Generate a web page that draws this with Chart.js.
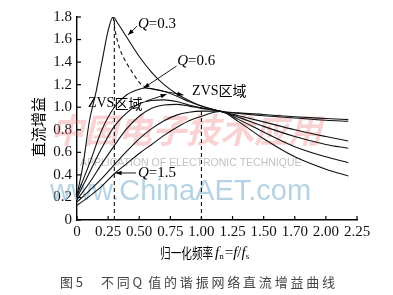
<!DOCTYPE html>
<html><head><meta charset="utf-8">
<script src="https://cdn.jsdelivr.net/npm/chart.js@4/dist/chart.umd.min.js"></script>
<style>html,body{margin:0;padding:0;background:#fff;}#wrap{width:393px;height:295px;}</style>
</head><body><div id="wrap"><canvas id="c" width="393" height="295"></canvas></div>
<script>
const xTickValues = [0,0.25,0.5,0.75,1,1.25,1.5,1.75,2,2.25];
const xTickLabels = ["0","0.25","0.50","0.75","1.00","1.25","1.50","1.70","2.00","2.25"];
const yTickValues = [0,0.2,0.4,0.6,0.8,1.0,1.2,1.4,1.6,1.8];
const yTickLabels = ["0","0.2","0.4","0.6","0.8","1.0","1.2","1.4","1.6","1.8"];

const q03X = [0,0.05,0.1,0.15,0.2,0.25,0.29,0.33,0.4,0.5,0.6,0.7,0.8,0.9,1.0,1.15,1.3,1.5,1.75,2.0,2.18];
const q03Y = [0.22,0.5,0.88,1.12,1.4,1.68,1.8,1.74,1.62,1.45,1.31,1.2,1.12,1.06,1.01,0.965,0.95,0.935,0.915,0.9,0.89];
const q06X = [0,0.1,0.2,0.3,0.4,0.5,0.55,0.65,0.8,0.9,1.0,1.15,1.3,1.5,1.75,2.0,2.18];
const q06Y = [0.22,0.5,0.8,1.0,1.11,1.16,1.17,1.155,1.1,1.05,1.01,0.965,0.945,0.925,0.905,0.885,0.875];
const commonX = [0,0.1,0.2,0.3,0.4,0.5,0.6,0.7,0.8,0.9,1.0,1.15,1.3,1.5,1.75,2.0,2.18];
const qCY = [0.2,0.42,0.64,0.83,0.95,1.03,1.06,1.065,1.05,1.02,0.995,0.965,0.925,0.87,0.8,0.74,0.70];
const qDY = [0.18,0.33,0.5,0.66,0.81,0.92,0.99,1.02,1.025,1.01,0.99,0.965,0.91,0.83,0.74,0.67,0.636];
const qEY = [0.16,0.26,0.37,0.49,0.61,0.72,0.81,0.88,0.93,0.955,0.965,0.965,0.89,0.78,0.65,0.56,0.508];
const q15Y = [0.13,0.21,0.3,0.41,0.5,0.59,0.67,0.75,0.82,0.88,0.92,0.962,0.87,0.72,0.56,0.45,0.39];
const locusX = [0.29,0.31,0.34,0.37,0.41,0.45,0.5,0.56];
const locusY = [1.8,1.66,1.53,1.45,1.37,1.3,1.22,1.17];
const vline1X = [0.3,0.3], vline1Y = [0,1.8];
const vline2X = [1.0,1.0], vline2Y = [0,1.0];

const pts = (xs, ys) => xs.map((x, i) => ({x, y: ys[i]}));
const curve = (xs, ys) => ({data: pts(xs, ys), borderColor:'#111', borderWidth:1.1, pointRadius:0, showLine:true, cubicInterpolationMode:'monotone', fill:false});
const dashed = (xs, ys) => ({data: pts(xs, ys), borderColor:'#111', borderWidth:1.1, borderDash:[4,3], pointRadius:0, showLine:true, cubicInterpolationMode:'monotone', fill:false});

function arrow(ctx, x1, y1, x2, y2) {
  ctx.beginPath(); ctx.moveTo(x1, y1); ctx.lineTo(x2, y2); ctx.stroke();
  const a = Math.atan2(y2 - y1, x2 - x1), L = 6, W = 2.2;
  ctx.beginPath();
  ctx.moveTo(x2, y2);
  ctx.lineTo(x2 - L*Math.cos(a) + W*Math.sin(a), y2 - L*Math.sin(a) - W*Math.cos(a));
  ctx.lineTo(x2 - L*Math.cos(a) - W*Math.sin(a), y2 - L*Math.sin(a) + W*Math.cos(a));
  ctx.closePath(); ctx.fill();
}
const SERIF = '"Liberation Serif", "Times New Roman", serif';
const CJK = '"Noto Sans CJK SC", sans-serif';

function qLabel(ctx, x, y, rest) {
  ctx.textBaseline = 'middle'; ctx.textAlign = 'left';
  ctx.font = 'italic 15px ' + SERIF; ctx.fillText('Q', x, y);
  const w = ctx.measureText('Q').width;
  ctx.font = '15px ' + SERIF; ctx.fillText(rest, x + w, y);
}
function zvs(ctx, x, y) {
  ctx.textBaseline = 'middle'; ctx.textAlign = 'left';
  ctx.font = '14px ' + SERIF; ctx.fillText('ZVS', x, y);
  const w = ctx.measureText('ZVS').width;
  ctx.font = '14px ' + CJK; ctx.fillText('区域', x + w, y);
}

const decor = {
  id: 'decor',
  beforeDatasetsDraw(chart) {
    const ctx = chart.ctx;
    ctx.save();
    ctx.font = 'italic bold 34px ' + CJK;
    ctx.fillStyle = 'rgba(235,110,110,0.3)';
    ctx.textBaseline = 'middle'; ctx.textAlign = 'left';
    ctx.fillText('中国电子技术应用', 50, 130);
    ctx.font = '10.5px "Liberation Sans", sans-serif';
    ctx.fillStyle = 'rgba(150,150,150,0.6)';
    ctx.fillText('APPLICATION OF ELECTRONIC TECHNIQUE', 80, 163);
    ctx.font = '29px "Liberation Sans", sans-serif';
    ctx.fillStyle = 'rgba(120,175,205,0.55)';
    ctx.textBaseline = 'alphabetic';
    ctx.fillText('www.ChinaAET.com', 50, 200);
    ctx.restore();
  },
  afterDraw(chart) {
    const ctx = chart.ctx, xs = chart.scales.x, ys = chart.scales.y;
    const X = v => xs.getPixelForValue(v), Y = v => ys.getPixelForValue(v);
    ctx.save();
    ctx.strokeStyle = '#000'; ctx.fillStyle = '#000'; ctx.lineWidth = 1.2;
    xTickValues.forEach(v => { ctx.beginPath(); ctx.moveTo(X(v), ys.bottom); ctx.lineTo(X(v), ys.bottom - 4); ctx.stroke(); });
    yTickValues.forEach(v => { ctx.beginPath(); ctx.moveTo(xs.left, Y(v)); ctx.lineTo(xs.left + 4, Y(v)); ctx.stroke(); });
    ctx.lineWidth = 0.9;
    qLabel(ctx, X(0.49), Y(1.74), '=0.3');
    arrow(ctx, X(0.483), Y(1.72), X(0.41), Y(1.64));
    qLabel(ctx, X(0.805), Y(1.41), '=0.6');
    arrow(ctx, X(0.80), Y(1.365), X(0.535), Y(1.17));
    qLabel(ctx, X(0.49), Y(0.417), '=1.5');
    arrow(ctx, X(0.475), Y(0.417), X(0.31), Y(0.417));
    zvs(ctx, X(0.088), Y(1.033));
    arrow(ctx, X(0.555), Y(1.055), X(0.72), Y(1.115));
    zvs(ctx, X(0.925), Y(1.144));
    arrow(ctx, X(0.56), Y(1.17), X(0.855), Y(1.108));
    ctx.save();
    ctx.translate(38, 127); ctx.rotate(-Math.PI/2);
    ctx.font = '15px ' + CJK; ctx.textAlign = 'center'; ctx.textBaseline = 'middle';
    ctx.fillText('直流增益', 0, 0);
    ctx.restore();
    ctx.save();
    ctx.textBaseline = 'middle'; ctx.textAlign = 'left';
    ctx.translate(160, 253); ctx.scale(0.76, 1);
    ctx.font = '14px ' + CJK; ctx.fillText('归一化频率', 0, 0);
    ctx.restore();
    let cx = 215;
    const seg = (t, font, dy) => { ctx.font = font; ctx.fillText(t, cx, 253 + dy); cx += ctx.measureText(t).width; };
    seg('f', 'italic 15px ' + SERIF, 0);
    seg('n', '9px ' + SERIF, 4);
    cx += 1;
    seg('=', '15px ' + SERIF, 0);
    seg('f', 'italic 15px ' + SERIF, 0);
    seg('/', '15px ' + SERIF, 0);
    seg('f', 'italic 15px ' + SERIF, 0);
    seg('s', '9px ' + SERIF, 4);
    ctx.fillStyle = '#444';
    const cap = ['图','5',' ',' ','不','同','Q','值','的','谐','振','网','络','直','流','增','益','曲','线'];
    let px = 60;
    ctx.font = '13px ' + CJK;
    cap.forEach(ch => {
      if (ch === ' ') { px += 6; return; }
      ctx.fillText(ch, px, 282);
      px += ctx.measureText(ch).width + (/[A-Za-z0-9]/.test(ch) ? 6 : 2.8);
    });
    ctx.restore();
  }
};

new Chart(document.getElementById('c'), {
  type: 'scatter',
  data: { datasets: [
    curve(q03X, q03Y), curve(q06X, q06Y), curve(commonX, qCY), curve(commonX, qDY), curve(commonX, qEY), curve(commonX, q15Y),
    dashed(locusX, locusY),
    {...dashed(vline1X, vline1Y), cubicInterpolationMode:'default', tension:0},
    {...dashed(vline2X, vline2Y), cubicInterpolationMode:'default', tension:0}
  ]},
  options: {
    responsive: false, animation: false, devicePixelRatio: 1,
    layout: { padding: { left: 0, top: 17, right: 36, bottom: 0 } },
    plugins: { legend: { display: false }, tooltip: { enabled: false } },
    scales: {
      x: { type: 'linear', min: 0, max: 2.25,
        afterBuildTicks: s => { s.ticks = xTickValues.map(v => ({value: v})); },
        afterFit: s => { s.height = 75; },
        ticks: { callback: (v, i) => xTickLabels[i], font: { family: 'Liberation Serif', size: 15 }, color: '#111', maxRotation: 0, autoSkip: false, padding: 3 },
        grid: { drawOnChartArea: false, drawTicks: false },
        border: { color: '#000', width: 1.4 } },
      y: { min: 0, max: 1.8,
        afterBuildTicks: s => { s.ticks = yTickValues.map(v => ({value: v})); },
        afterFit: s => { s.width = 77; },
        ticks: { callback: (v, i) => yTickLabels[i], font: { family: 'Liberation Serif', size: 15 }, color: '#111', autoSkip: false, padding: 5 },
        grid: { drawOnChartArea: false, drawTicks: false },
        border: { color: '#000', width: 1.4 } }
    }
  },
  plugins: [decor]
});
</script></body></html>
